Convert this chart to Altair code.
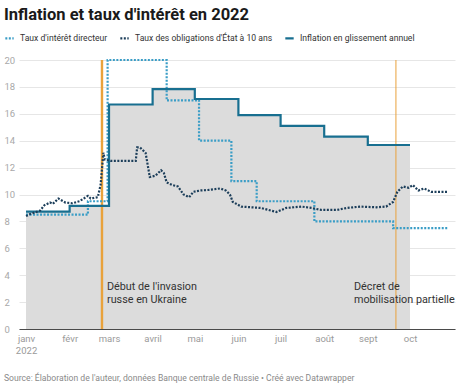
import altair as alt
import pandas as pd

# ---------------- data ----------------
series_names = ["Taux d'intérêt directeur",
                "Taux des obligations d'État à 10 ans",
                "Inflation en glissement annuel"]

infl_dates = ["2022-01-01", "2022-02-01", "2022-03-01", "2022-04-01", "2022-05-01",
              "2022-06-01", "2022-07-01", "2022-08-01", "2022-09-01", "2022-10-01"]
infl_vals = [8.73, 9.15, 16.69, 17.83, 17.10, 15.90, 15.10, 14.30, 13.68, 13.68]

key_dates = ["2022-01-01", "2022-02-14", "2022-02-28", "2022-04-11", "2022-05-04",
             "2022-05-27", "2022-06-14", "2022-07-25", "2022-09-19", "2022-10-28"]
key_vals = [8.5, 9.5, 20.0, 17.0, 14.0, 11.0, 9.5, 8.0, 7.5, 7.5]

bond_dates = ["2022-01-01", "2022-01-04", "2022-01-11", "2022-01-14", "2022-01-18",
              "2022-01-20", "2022-01-24", "2022-01-29", "2022-02-03", "2022-02-08",
              "2022-02-14", "2022-02-16", "2022-02-21", "2022-02-23", "2022-02-25",
              "2022-02-26", "2022-03-02", "2022-03-20", "2022-03-21", "2022-03-23",
              "2022-03-27", "2022-03-30", "2022-04-03", "2022-04-07", "2022-04-09",
              "2022-04-11", "2022-04-15", "2022-04-19", "2022-04-23", "2022-04-27",
              "2022-04-30", "2022-05-05", "2022-05-12", "2022-05-19", "2022-05-23",
              "2022-05-26", "2022-05-28", "2022-06-03", "2022-06-10", "2022-06-17",
              "2022-06-28", "2022-07-05", "2022-07-16", "2022-07-23", "2022-07-30",
              "2022-08-10", "2022-08-17", "2022-08-27", "2022-09-07", "2022-09-14",
              "2022-09-19", "2022-09-22", "2022-09-26", "2022-09-30", "2022-10-03",
              "2022-10-07", "2022-10-11", "2022-10-16", "2022-10-28"]
bond_vals = [8.4, 8.55, 8.8, 9.2, 9.4,
             9.3, 9.7, 9.4, 9.35, 9.5,
             9.9, 9.7, 9.8, 10.7, 13.1,
             12.6, 12.5, 12.5, 13.5, 13.5,
             13.1, 11.3, 11.4, 11.8, 11.6,
             10.9, 10.7, 10.6, 10.0, 9.8,
             10.2, 10.3, 10.35, 10.45, 10.3,
             10.0, 9.45, 9.1, 9.05, 9.0,
             8.7, 9.0, 9.1, 9.0, 8.85,
             8.85, 9.0, 9.1, 9.05, 9.1,
             9.45, 10.2, 10.6, 10.5, 10.7,
             10.3, 10.45, 10.2, 10.2]

event_dates = ["2022-02-24", "2022-09-21"]
event_labels = [["Début de l'invasion", "russe en Ukraine"],
                ["Décret de", "mobilisation partielle"]]

month_labels = ["janv", "févr", "mars", "avril", "mai", "juin",
                "juil", "août", "sept", "oct", "nov", "déc"]
y_ticks = [0, 2, 4, 6, 8, 10, 12, 14, 16, 18, 20]

title_text = "Inflation et taux d'intérêt en 2022"
source_text = ("Source: Élaboration de l'auteur, données Banque centrale de Russie"
               " • Créé avec Datawrapper")

# ---------------- tables ----------------
steps = pd.concat([
    pd.DataFrame({"date": key_dates, "value": key_vals, "series": series_names[0]}),
    pd.DataFrame({"date": infl_dates, "value": infl_vals, "series": series_names[2]}),
])
bond = pd.DataFrame({"date": bond_dates, "value": bond_vals, "series": series_names[1]})
infl = pd.DataFrame({"date": infl_dates, "value": infl_vals})
events = pd.DataFrame({"date": event_dates, "label": event_labels})
source = pd.DataFrame({"t": [source_text]})

# ---------------- scales / axes ----------------
x_scale = alt.Scale(type="utc",
                    domain=[alt.DateTime(year=2021, month=12, date=27, utc=True),
                            alt.DateTime(year=2022, month=11, date=2, utc=True)])
y_scale = alt.Scale(domain=[0, 20], nice=False)

month_expr = "[" + ",".join("'%s'" % m for m in month_labels) + "]"
x_axis = alt.Axis(
    title=None,
    values=[alt.DateTime(year=2022, month=m, date=1, utc=True) for m in range(1, 11)],
    labelExpr=f"utcmonth(datum.value) == 0 ? [{month_expr}[0], '2022'] : {month_expr}[utcmonth(datum.value)]",
    grid=False, ticks=False, domain=True, domainColor="#4a4a4a", domainWidth=1,
    labelColor="#9a9a9a", labelFontSize=9.5, labelPadding=4, labelAlign="center",
    labelLineHeight=12, labelOverlap=False,
)
y_axis = alt.Axis(
    title=None, values=y_ticks, grid=True, gridColor="#e6e6e6", ticks=False,
    domain=False, labelAlign="left", labelPadding=15, labelColor="#a8a8a8",
    labelFontSize=9.5, labelOverlap=False,
)

X = alt.X("date:T", scale=x_scale, axis=x_axis)
Y = alt.Y("value:Q", scale=y_scale, axis=y_axis)
Y_ann = alt.YDatum(2.9, type="quantitative", scale=y_scale, axis=y_axis)

leg = dict(title=None, orient="none", legendX=-15, legendY=-27.5,
           direction="horizontal", symbolType="stroke", symbolSize=70,
           labelFontSize=8.6, labelColor="#333333", columnPadding=7, labelOffset=5)

color = alt.Color("series:N",
                  scale=alt.Scale(domain=series_names,
                                  range=["#3a9dc6", "#1c3e5a", "#186f90"]),
                  legend=alt.Legend(**leg))
dash = alt.StrokeDash("series:N",
                      scale=alt.Scale(domain=series_names,
                                      range=[[2, 1.5], [2, 1.5], [1, 0]]),
                      legend=alt.Legend(**leg))
width_enc = alt.StrokeWidth("series:N",
                            scale=alt.Scale(domain=series_names, range=[2.2, 2.2, 3.5]),
                            legend=alt.Legend(**leg))

area = alt.Chart(infl).mark_area(interpolate="step-after", color="#dcdcdc").encode(
    x=X, y=Y)

rule1 = alt.Chart(events.iloc[[0]]).mark_rule(color="#e9a23b", strokeWidth=2.4).encode(
    x=X)
rule2 = alt.Chart(events.iloc[[1]]).mark_rule(color="#e9a23b", strokeWidth=1).encode(
    x=X)

step_lines = alt.Chart(steps).mark_line(interpolate="step-after").encode(
    x=X, y=Y, color=color, strokeDash=dash, strokeWidth=width_enc,
    detail="series:N")
bond_line = alt.Chart(bond).mark_line().encode(
    x=X, y=Y, color=color, strokeDash=dash, strokeWidth=width_enc)

ann1 = alt.Chart(events.iloc[[0]]).mark_text(
    align="left", baseline="alphabetic", dx=5, fontSize=10.8, color="#333333",
    lineHeight=13).encode(x=X, y=Y_ann, text="label")
ann2 = alt.Chart(events.iloc[[1]]).mark_text(
    align="left", baseline="alphabetic", dx=-42, fontSize=10.8, color="#333333",
    lineHeight=13).encode(x=X, y=Y_ann, text="label")

src = alt.Chart(source).mark_text(
    align="left", baseline="alphabetic", fontSize=8.6, color="#8a8a8a").encode(
    x=alt.value(-15), y=alt.value(321), text="t:N")

chart = alt.layer(area, rule1, rule2, step_lines, bond_line, ann1, ann2, src).properties(
    width=436, height=269,
    padding={"left": 19, "top": 60, "right": 5, "bottom": 56},
    autosize=alt.AutoSizeParams(type="none"),
    title=alt.Title(title_text, anchor="start", fontSize=16.5, fontWeight="bold",
                    font="Roboto", color="#1a1a1a", offset=9),
).configure(font="Roboto").configure_view(stroke=None)

chart.save("out.html", embed_options={"renderer": "svg", "actions": False})
